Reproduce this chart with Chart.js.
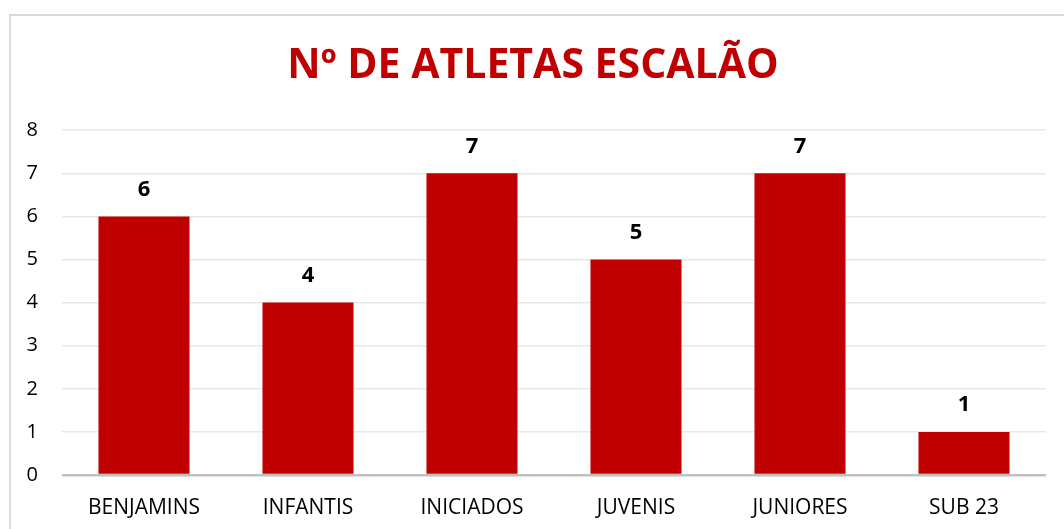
<!DOCTYPE html>
<html>
<head>
<meta charset="utf-8">
<script src="https://cdn.jsdelivr.net/npm/chart.js@4"></script>
<style>
  body { margin: 0; background: #fff; }
  #frame { position: absolute; left: 9px; top: 14px; width: 1100px; height: 560px; border: 2px solid #d9d9d9; }
  #wrap { position: absolute; left: 0; top: 0; width: 1064px; height: 529px; }
</style>
</head>
<body>
<div id="frame"></div>
<div id="wrap"><canvas id="chart1"></canvas></div>
<script>
const categories = ['BENJAMINS', 'INFANTIS', 'INICIADOS', 'JUVENIS', 'JUNIORES', 'SUB 23'];
const athletes = [6, 4, 7, 5, 7, 1];
const yTicks = [0, 1, 2, 3, 4, 5, 6, 7, 8];

// value labels on top of the bars
const valueLabels = {
  id: 'valueLabels',
  afterDatasetsDraw(chart) {
    const ctx = chart.ctx;
    const meta = chart.getDatasetMeta(0);
    ctx.save();
    ctx.font = 'bold 22px "Open Sans"';
    ctx.fillStyle = '#000';
    ctx.textAlign = 'center';
    ctx.textBaseline = 'middle';
    meta.data.forEach((bar, i) => {
      ctx.fillText(String(athletes[i]), bar.x, bar.y - 27);
    });
    ctx.restore();
  }
};

const config = {
  type: 'bar',
  data: {
    labels: categories,
    datasets: [{
      label: 'Nº de atletas',
      data: athletes,
      backgroundColor: '#c00000',
      categoryPercentage: 1,
      barPercentage: 0.555
    }]
  },
  options: {
    responsive: true,
    maintainAspectRatio: false,
    animation: false,
    layout: {
      padding: { left: 20, right: 18, top: 10, bottom: 0 }
    },
    plugins: {
      legend: { display: false },
      tooltip: { enabled: false },
      title: {
        display: true,
        text: 'Nº DE ATLETAS ESCALÃO',
        color: '#c00000',
        font: { family: '"Open Sans"', size: 41, weight: 'bold' },
        padding: { top: 32, bottom: 39 }
      }
    },
    scales: {
      x: {
        afterFit(scale) { scale.height = 54; },
        grid: { display: false },
        border: { display: false },
        ticks: {
          color: '#000',
          padding: 12,
          font: { family: '"Open Sans"', size: 21 }
        }
      },
      y: {
        min: 0,
        max: 8,
        afterFit(scale) { scale.width = 42; },
        afterBuildTicks(scale) { scale.ticks = yTicks.map(v => ({ value: v })); },
        border: { display: false },
        grid: {
          drawTicks: false,
          color: c => c.tick && c.tick.value === 0 ? '#bfbfbf' : '#e8e8e8',
          lineWidth: c => c.tick && c.tick.value === 0 ? 2.5 : 1.5
        },
        ticks: {
          color: '#000',
          padding: 24,
          font: { family: '"Open Sans"', size: 20 }
        }
      }
    }
  },
  plugins: [valueLabels]
};

var myChart = new Chart(document.getElementById('chart1'), config);
</script>
</body>
</html>
